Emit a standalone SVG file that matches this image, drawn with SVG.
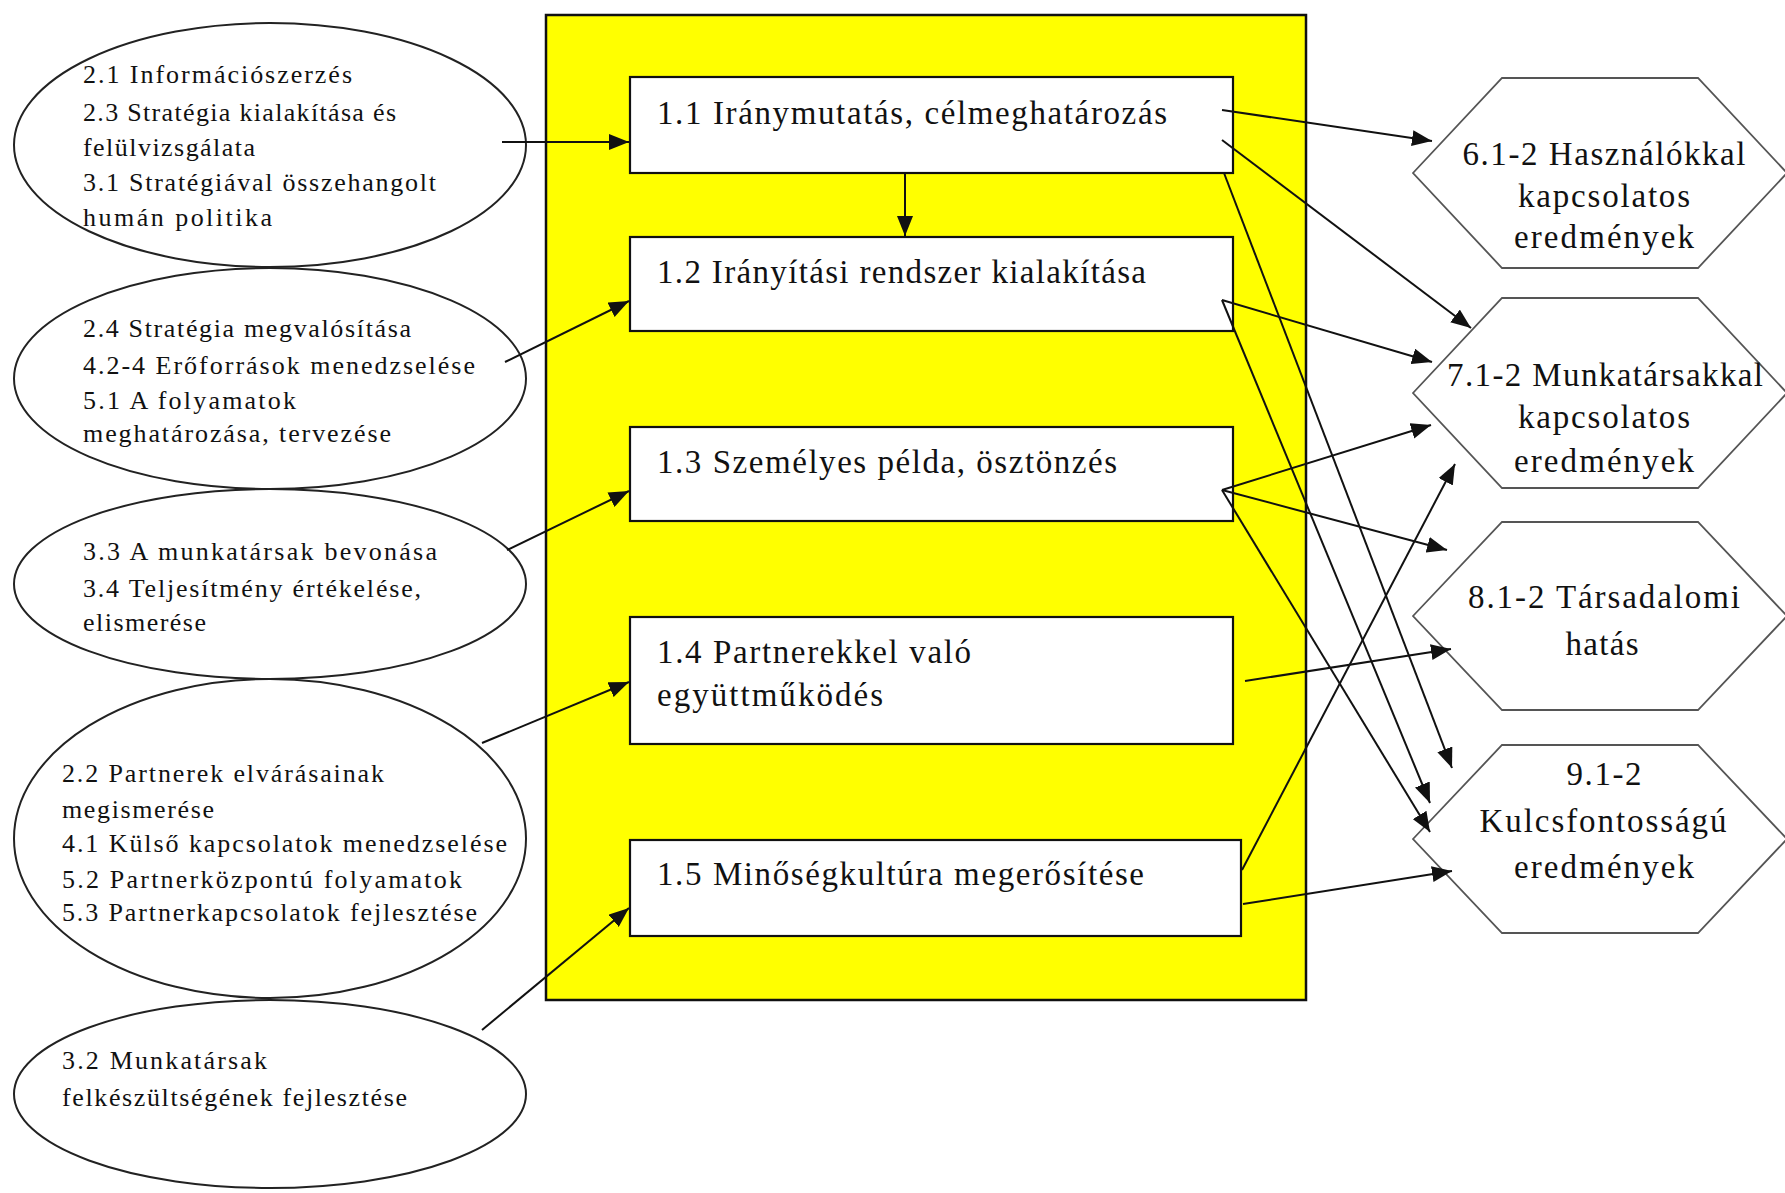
<svg xmlns="http://www.w3.org/2000/svg" width="1785" height="1193" viewBox="0 0 1785 1193">
<style>
.bg{fill:#fff}
.frame{fill:#ffff00;stroke:#111;stroke-width:2.5}
.box{fill:#fff;stroke:#111;stroke-width:2.2}
.ell{fill:#fff;stroke:#222;stroke-width:2}
.hex{fill:#fff;stroke:#555;stroke-width:1.8}
.t{font-family:"Liberation Serif","Times New Roman",serif;fill:#111}
.tb{font-size:33px}
.te{font-size:26px}
.th{font-size:33px;text-anchor:middle}
.c{stroke:#111;stroke-width:2;fill:none;marker-end:url(#ah)}
</style>
<defs>
<marker id="ah" markerUnits="userSpaceOnUse" markerWidth="22" markerHeight="16" refX="20" refY="8" orient="auto">
<path d="M0,0 L20,8 L0,16 z" fill="#111"/>
</marker>
</defs>
<rect class="bg" x="0" y="0" width="1785" height="1193"/>
<g id="frame"><rect class="frame" x="546" y="15" width="760" height="985"/></g>

<g id="e1"><ellipse class="ell" cx="270" cy="145" rx="256" ry="122"/>
<text class="t te" x="83" y="83" textLength="269">2.1 Információszerzés</text>
<text class="t te" x="83" y="121" textLength="313">2.3 Stratégia kialakítása és</text>
<text class="t te" x="83" y="156" textLength="172">felülvizsgálata</text>
<text class="t te" x="83" y="191" textLength="353">3.1 Stratégiával összehangolt</text>
<text class="t te" x="83" y="226" textLength="189">humán politika</text></g>

<g id="e2"><ellipse class="ell" cx="270" cy="378.5" rx="256" ry="110.5"/>
<text class="t te" x="83" y="337" textLength="328">2.4 Stratégia megvalósítása</text>
<text class="t te" x="83" y="374" textLength="392">4.2-4 Erőforrások menedzselése</text>
<text class="t te" x="83" y="409" textLength="213">5.1 A folyamatok</text>
<text class="t te" x="83" y="442" textLength="308">meghatározása, tervezése</text></g>

<g id="e3"><ellipse class="ell" cx="270" cy="584" rx="256" ry="95"/>
<text class="t te" x="83" y="560" textLength="354">3.3 A munkatársak bevonása</text>
<text class="t te" x="83" y="597" textLength="338">3.4 Teljesítmény értékelése,</text>
<text class="t te" x="83" y="631" textLength="123">elismerése</text></g>

<g id="e4"><ellipse class="ell" cx="270" cy="838.5" rx="256" ry="159.5"/>
<text class="t te" x="62" y="782" textLength="322">2.2 Partnerek elvárásainak</text>
<text class="t te" x="62" y="818" textLength="152">megismerése</text>
<text class="t te" x="62" y="852" textLength="445">4.1 Külső kapcsolatok menedzselése</text>
<text class="t te" x="62" y="888" textLength="400">5.2 Partnerközpontú folyamatok</text>
<text class="t te" x="62" y="921" textLength="415">5.3 Partnerkapcsolatok fejlesztése</text></g>

<g id="e5"><ellipse class="ell" cx="270" cy="1094" rx="256" ry="94"/>
<text class="t te" x="62" y="1069" textLength="205">3.2 Munkatársak</text>
<text class="t te" x="62" y="1106" textLength="345">felkészültségének fejlesztése</text></g>

<g id="b11"><rect class="box" x="630" y="77" width="603" height="96"/>
<text class="t tb" x="657" y="124" textLength="510">1.1 Iránymutatás, célmeghatározás</text></g>
<g id="b12"><rect class="box" x="630" y="237" width="603" height="94"/>
<text class="t tb" x="657" y="283" textLength="489">1.2 Irányítási rendszer kialakítása</text></g>
<g id="b13"><rect class="box" x="630" y="427" width="603" height="94"/>
<text class="t tb" x="657" y="473" textLength="460">1.3 Személyes példa, ösztönzés</text></g>
<g id="b14"><rect class="box" x="630" y="617" width="603" height="127"/>
<text class="t tb" x="657" y="663" textLength="314">1.4 Partnerekkel való</text>
<text class="t tb" x="657" y="706" textLength="226">együttműködés</text></g>
<g id="b15"><rect class="box" x="630" y="840" width="611" height="96"/>
<text class="t tb" x="657" y="885" textLength="487">1.5 Minőségkultúra megerősítése</text></g>

<g id="h6"><polygon class="hex" points="1413,173 1502,78 1698,78 1787,173 1698,268 1502,268"/>
<text class="t th" x="1604" y="165" textLength="283">6.1-2 Használókkal</text>
<text class="t th" x="1604" y="207" textLength="172">kapcsolatos</text>
<text class="t th" x="1604" y="248" textLength="180">eredmények</text></g>
<g id="h7"><polygon class="hex" points="1413,393 1502,298 1698,298 1787,393 1698,488 1502,488"/>
<text class="t th" x="1605" y="386" textLength="316">7.1-2 Munkatársakkal</text>
<text class="t th" x="1604" y="428" textLength="172">kapcsolatos</text>
<text class="t th" x="1604" y="472" textLength="180">eredmények</text></g>
<g id="h8"><polygon class="hex" points="1413,616 1502,522 1698,522 1787,616 1698,710 1502,710"/>
<text class="t th" x="1604" y="608" textLength="272">8.1-2 Társadalomi</text>
<text class="t th" x="1602" y="655" textLength="73">hatás</text></g>
<g id="h9"><polygon class="hex" points="1413,839 1502,745 1698,745 1787,839 1698,933 1502,933"/>
<text class="t th" x="1604" y="785" textLength="75">9.1-2</text>
<text class="t th" x="1603" y="832" textLength="247">Kulcsfontosságú</text>
<text class="t th" x="1604" y="878" textLength="180">eredmények</text></g>

<g id="connectors">
<line class="c" x1="502" y1="142" x2="629" y2="142"/>
<line class="c" x1="505" y1="362" x2="629" y2="301"/>
<line class="c" x1="507" y1="550" x2="629" y2="491"/>
<line class="c" x1="482" y1="743" x2="629" y2="682"/>
<line class="c" x1="482" y1="1030" x2="629" y2="908"/>
<line class="c" x1="905" y1="173" x2="905" y2="236"/>
<line class="c" x1="1222" y1="110" x2="1432" y2="141"/>
<line class="c" x1="1222" y1="140" x2="1471" y2="328"/>
<line class="c" x1="1224" y1="173" x2="1452" y2="768"/>
<line class="c" x1="1222" y1="300" x2="1432" y2="362"/>
<line class="c" x1="1222" y1="300" x2="1430" y2="803"/>
<line class="c" x1="1222" y1="490" x2="1431" y2="425"/>
<line class="c" x1="1222" y1="490" x2="1447" y2="550"/>
<line class="c" x1="1222" y1="490" x2="1430" y2="832"/>
<line class="c" x1="1245" y1="681" x2="1451" y2="649"/>
<line class="c" x1="1242" y1="870" x2="1455" y2="464"/>
<line class="c" x1="1243" y1="904" x2="1452" y2="871"/>
</g>
</svg>
